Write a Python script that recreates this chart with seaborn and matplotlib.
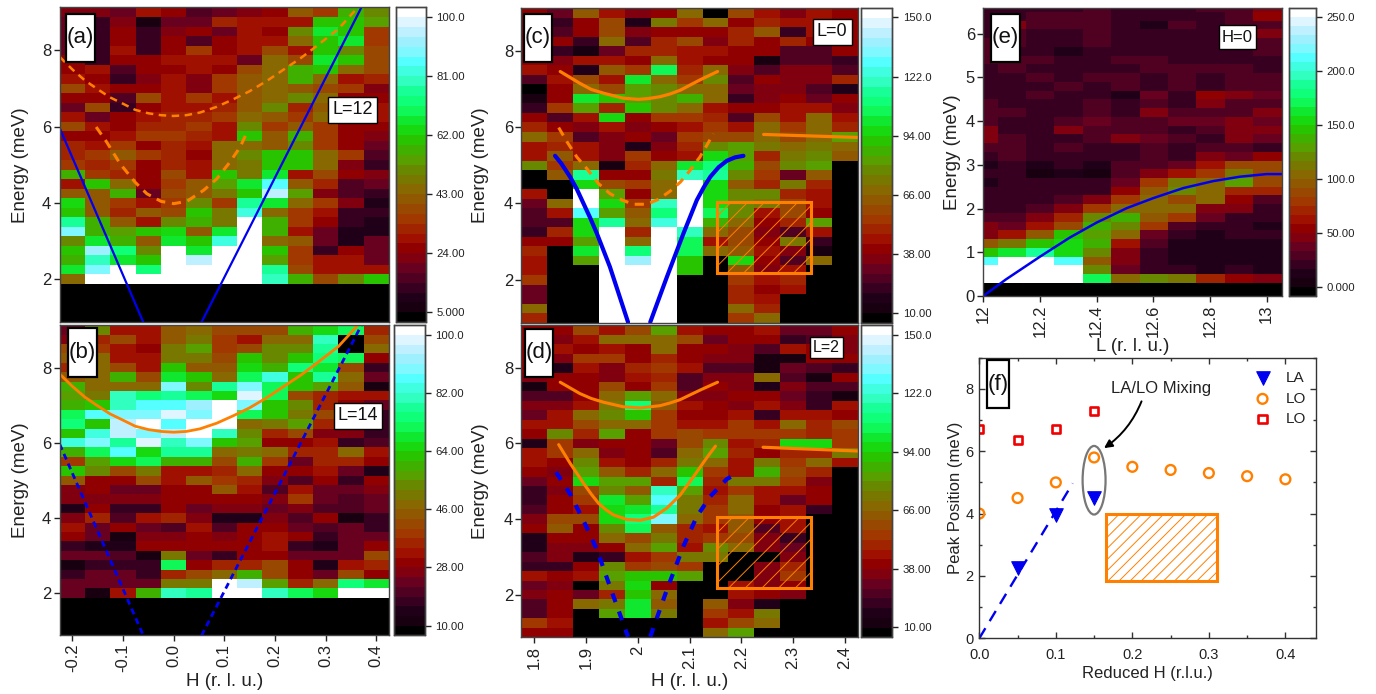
import numpy as np
import pandas as pd
import seaborn as sns
from matplotlib import pyplot as plt
from matplotlib.colors import ListedColormap
from matplotlib.patches import Rectangle, Ellipse
from matplotlib.ticker import MultipleLocator, FixedLocator

FIG_W, FIG_H = 1376, 694

band_colors = ["#000000", "#180010", "#200018", "#380020", "#500020", "#680020", "#800010", "#900000",
               "#A01000", "#A02400", "#A03800", "#984800", "#905800", "#886800", "#787800", "#688800",
               "#58A000", "#40B000", "#28C400", "#18D810", "#10E830", "#10F858", "#10FF78", "#18FF98",
               "#30FFC0", "#40FFE0", "#55FFFF", "#7FF8FF", "#9FF0FF", "#BFF0FF", "#DFF5FF", "#FFFFFF"]

orange = "#FF8000"
blue = "#0000F0"

# energy rows, top to bottom
energy_rows = [9.0, 8.75, 8.5, 8.25, 8.0, 7.75, 7.5, 7.25, 7.0, 6.75, 6.5, 6.25, 6.0, 5.75, 5.5, 5.25, 5.0,
               4.75, 4.5, 4.25, 4.0, 3.75, 3.5, 3.25, 3.0, 2.75, 2.5, 2.25, 2.0, 1.75, 1.5, 1.25, 1.0]
h_reduced = [-0.2, -0.15, -0.1, -0.05, 0.0, 0.05, 0.1, 0.15, 0.2, 0.25, 0.3, 0.35, 0.4]
h_zone = [1.8, 1.85, 1.9, 1.95, 2.0, 2.05, 2.1, 2.15, 2.2, 2.25, 2.3, 2.35, 2.4]

panel_a = [
    [22, 22, 20, 28, 24, 15, 20, 22, 26, 42, 34, 58, 52],
    [20, 12, 22, 8, 18, 20, 32, 28, 28, 30, 60, 60, 55],
    [20, 14, 24, 13, 22, 24, 18, 28, 26, 50, 66, 60, 34],
    [20, 14, 24, 14, 24, 16, 24, 28, 30, 44, 60, 68, 34],
    [20, 14, 28, 14, 24, 36, 26, 28, 38, 30, 60, 50, 38],
    [24, 14, 24, 24, 28, 28, 28, 20, 44, 38, 66, 62, 38],
    [24, 30, 16, 24, 24, 30, 26, 38, 44, 58, 62, 44, 38],
    [28, 24, 14, 22, 28, 22, 36, 42, 44, 58, 44, 28, 32],
    [38, 28, 26, 26, 28, 22, 36, 42, 44, 40, 38, 34, 22],
    [24, 26, 16, 38, 28, 36, 30, 42, 44, 52, 44, 24, 24],
    [20, 38, 14, 26, 28, 28, 32, 42, 52, 32, 42, 28, 30],
    [30, 18, 26, 28, 32, 32, 34, 44, 40, 34, 44, 30, 28],
    [38, 28, 26, 32, 32, 36, 28, 50, 36, 42, 36, 24, 24],
    [26, 24, 28, 36, 34, 32, 28, 60, 42, 56, 34, 26, 22],
    [32, 28, 36, 26, 32, 30, 44, 44, 40, 50, 36, 26, 20],
    [32, 36, 42, 34, 32, 26, 46, 52, 62, 62, 44, 36, 16],
    [36, 32, 36, 26, 32, 30, 44, 48, 62, 62, 44, 22, 12],
    [56, 36, 32, 26, 38, 28, 62, 48, 68, 28, 38, 24, 22],
    [30, 62, 44, 24, 34, 40, 54, 66, 85, 42, 32, 16, 18],
    [40, 42, 58, 20, 38, 42, 48, 60, 94, 54, 22, 16, 12],
    [64, 42, 36, 30, 36, 52, 36, 76, 66, 44, 34, 22, 10],
    [60, 42, 32, 40, 38, 60, 48, 84, 46, 34, 28, 14, 12],
    [76, 58, 42, 28, 50, 58, 48, 103, 58, 36, 26, 14, 10],
    [88, 58, 54, 60, 64, 42, 68, 103, 56, 30, 18, 10, 11],
    [50, 66, 58, 42, 68, 62, 84, 103, 44, 42, 18, 10, 20],
    [62, 92, 74, 50, 103, 66, 103, 103, 60, 34, 13, 26, 20],
    [56, 80, 66, 60, 103, 96, 103, 103, 54, 36, 28, 28, 18],
    [66, 90, 103, 74, 103, 103, 103, 103, 76, 38, 30, 30, 30],
    [46, 103, 103, 103, 103, 103, 103, 103, 78, 58, 38, 52, 62],
    [0] * 13, [0] * 13, [0] * 13, [0] * 13,
]

panel_b = [
    [24, 52, 32, 33, 44, 48, 42, 42, 42, 58, 66, 72, 34],
    [26, 36, 40, 33, 44, 50, 38, 32, 46, 46, 80, 5, 40],
    [40, 38, 31, 28, 50, 56, 38, 40, 54, 54, 76, 5, 46],
    [44, 46, 33, 33, 50, 50, 42, 62, 54, 62, 74, 70, 28],
    [35, 46, 40, 32, 62, 44, 44, 64, 60, 74, 68, 40, 16],
    [44, 46, 60, 40, 68, 62, 46, 70, 82, 62, 78, 46, 22],
    [58, 46, 46, 46, 90, 54, 76, 90, 72, 62, 56, 44, 10],
    [56, 50, 80, 74, 78, 70, 66, 97, 72, 42, 36, 31, 31],
    [60, 62, 80, 86, 86, 91, 103, 88, 62, 54, 34, 28, 24],
    [71, 85, 88, 90, 97, 90, 103, 72, 62, 50, 40, 26, 18],
    [75, 62, 96, 103, 85, 103, 103, 48, 50, 56, 36, 24, 18],
    [62, 82, 96, 90, 96, 103, 80, 54, 35, 40, 26, 26, 16],
    [82, 90, 78, 98, 80, 88, 62, 56, 28, 28, 31, 16, 20],
    [58, 70, 85, 66, 78, 78, 47, 50, 47, 34, 34, 46, 33],
    [38, 56, 66, 70, 60, 58, 40, 60, 38, 24, 34, 34, 30],
    [62, 54, 42, 50, 32, 32, 34, 46, 30, 28, 33, 24, 14],
    [44, 28, 28, 40, 33, 44, 38, 34, 26, 20, 30, 16, 28],
    [26, 30, 24, 22, 30, 30, 44, 32, 20, 32, 24, 24, 26],
    [26, 26, 26, 26, 28, 28, 30, 30, 26, 38, 24, 20, 24],
    [14, 30, 16, 16, 28, 24, 26, 26, 22, 26, 20, 20, 22],
    [27, 34, 20, 31, 34, 26, 14, 14, 26, 20, 30, 12, 16],
    [33, 24, 30, 24, 20, 33, 20, 30, 28, 22, 20, 24, 18],
    [30, 24, 12, 26, 26, 30, 26, 30, 32, 30, 18, 24, 24],
    [16, 14, 15, 28, 28, 28, 28, 28, 32, 18, 14, 24, 30],
    [24, 24, 20, 10, 50, 24, 16, 30, 30, 24, 24, 24, 40],
    [11, 18, 18, 18, 70, 30, 36, 34, 40, 28, 15, 32, 36],
    [16, 24, 22, 16, 36, 40, 48, 58, 40, 30, 24, 40, 30],
    [24, 24, 24, 24, 50, 50, 103, 96, 56, 34, 46, 74, 68],
    [24, 10, 31, 60, 80, 78, 103, 103, 80, 72, 66, 103, 103],
    [0] * 13, [0] * 13, [0] * 13, [0] * 13,
]

panel_c = [
    [38, 32, 62, 44, 34, 38, 68, 5, 58, 46, 36, 44, 38],
    [38, 20, 40, 60, 18, 72, 54, 68, 42, 50, 46, 44, 40],
    [40, 26, 40, 60, 36, 42, 40, 40, 48, 62, 22, 44, 40],
    [42, 40, 20, 68, 28, 50, 58, 36, 48, 38, 50, 42, 40],
    [42, 22, 14, 30, 48, 48, 44, 46, 38, 38, 26, 26, 40],
    [40, 36, 44, 44, 40, 66, 44, 42, 42, 14, 24, 28, 22],
    [44, 38, 18, 62, 54, 104, 50, 68, 34, 28, 34, 34, 26],
    [24, 46, 58, 44, 100, 70, 56, 76, 28, 38, 34, 34, 48],
    [5, 42, 66, 60, 82, 76, 70, 66, 32, 36, 36, 24, 18],
    [12, 38, 102, 92, 84, 78, 88, 66, 20, 36, 40, 30, 40],
    [20, 54, 84, 50, 92, 76, 68, 44, 40, 40, 46, 44, 36],
    [42, 24, 44, 98, 38, 52, 56, 48, 24, 60, 46, 68, 44],
    [50, 38, 36, 44, 34, 38, 44, 54, 44, 66, 56, 68, 50],
    [68, 54, 28, 36, 40, 32, 56, 60, 58, 68, 60, 68, 82],
    [46, 50, 46, 36, 16, 36, 48, 76, 84, 72, 66, 72, 70],
    [44, 64, 46, 36, 54, 40, 44, 96, 84, 50, 72, 78, 64],
    [76, 56, 68, 14, 50, 68, 102, 112, 88, 60, 78, 80, 5],
    [5, 62, 116, 38, 38, 72, 118, 116, 76, 54, 32, 64, 5],
    [5, 5, 96, 60, 54, 70, 155, 98, 64, 50, 72, 48, 5],
    [44, 5, 155, 84, 38, 66, 155, 98, 78, 78, 50, 44, 5],
    [32, 68, 155, 96, 56, 118, 155, 96, 78, 72, 60, 44, 5],
    [24, 44, 127, 80, 62, 112, 155, 104, 76, 46, 60, 38, 5],
    [26, 24, 98, 115, 66, 122, 155, 86, 68, 40, 50, 84, 5],
    [20, 48, 98, 155, 50, 155, 118, 68, 58, 36, 26, 44, 5],
    [40, 40, 84, 155, 70, 155, 104, 46, 58, 40, 72, 22, 5],
    [50, 5, 100, 155, 108, 155, 105, 68, 64, 44, 36, 14, 5],
    [46, 5, 80, 155, 140, 155, 92, 5, 98, 42, 28, 66, 5],
    [44, 5, 5, 155, 155, 155, 92, 5, 62, 36, 46, 5, 5],
    [56, 5, 5, 155, 155, 155, 5, 5, 54, 46, 48, 5, 5],
    [30, 5, 5, 155, 155, 155, 5, 5, 50, 42, 46, 5, 5],
    [32, 5, 5, 155, 155, 155, 5, 5, 50, 44, 5, 5, 5],
    [66, 5, 5, 155, 155, 155, 5, 5, 66, 50, 5, 5, 5],
    [48, 5, 5, 155, 155, 155, 5, 5, 56, 68, 5, 5, 5],
]

panel_d = [
    [40, 38, 60, 46, 58, 80, 44, 42, 42, 44, 30, 32, 40],
    [40, 36, 46, 70, 66, 68, 58, 30, 38, 42, 22, 28, 36],
    [40, 46, 40, 44, 40, 66, 42, 40, 36, 24, 44, 38, 36],
    [40, 36, 56, 56, 42, 50, 40, 36, 36, 12, 12, 42, 38],
    [40, 18, 46, 36, 50, 56, 44, 28, 28, 14, 30, 26, 20],
    [36, 40, 42, 36, 46, 48, 28, 36, 34, 68, 28, 12, 38],
    [12, 38, 40, 58, 40, 56, 26, 40, 36, 18, 34, 26, 28],
    [24, 24, 42, 68, 84, 68, 34, 36, 38, 38, 30, 20, 14],
    [34, 34, 46, 72, 108, 62, 44, 38, 34, 46, 36, 20, 44],
    [30, 44, 70, 76, 90, 52, 40, 40, 44, 22, 44, 44, 42],
    [46, 46, 58, 68, 66, 52, 44, 44, 54, 46, 68, 50, 60],
    [42, 76, 48, 80, 42, 52, 60, 56, 54, 52, 52, 50, 54],
    [18, 52, 36, 40, 40, 30, 60, 76, 44, 48, 96, 98, 54],
    [44, 54, 68, 36, 38, 28, 68, 84, 50, 42, 48, 48, 74],
    [46, 40, 76, 44, 40, 48, 74, 70, 46, 72, 54, 68, 44],
    [40, 36, 84, 62, 48, 66, 92, 56, 46, 86, 60, 48, 5],
    [30, 38, 96, 82, 82, 50, 104, 50, 72, 72, 56, 36, 5],
    [20, 34, 60, 76, 62, 118, 82, 44, 54, 44, 44, 38, 5],
    [20, 38, 54, 100, 80, 130, 72, 50, 66, 44, 32, 40, 5],
    [26, 38, 46, 94, 100, 115, 72, 52, 66, 40, 46, 20, 5],
    [36, 58, 60, 94, 108, 132, 68, 54, 62, 38, 46, 5, 5],
    [42, 64, 42, 76, 104, 62, 48, 46, 64, 28, 46, 5, 5],
    [18, 38, 40, 66, 60, 74, 50, 52, 58, 36, 20, 5, 5],
    [18, 36, 36, 38, 70, 82, 46, 78, 68, 34, 32, 5, 5],
    [28, 36, 18, 22, 44, 52, 74, 72, 5, 5, 36, 5, 5],
    [22, 22, 38, 78, 54, 60, 54, 5, 5, 34, 50, 5, 5],
    [46, 40, 44, 80, 92, 90, 80, 5, 5, 36, 52, 5, 5],
    [30, 34, 5, 74, 96, 40, 5, 5, 44, 34, 40, 5, 5],
    [34, 42, 30, 50, 92, 70, 5, 5, 44, 40, 36, 5, 5],
    [24, 42, 68, 74, 102, 64, 5, 62, 36, 18, 5, 5, 5],
    [24, 40, 5, 84, 100, 72, 5, 56, 46, 72, 5, 5, 5],
    [54, 44, 5, 5, 5, 5, 5, 46, 60, 68, 5, 5, 5],
    [42, 38, 5, 5, 5, 5, 5, 68, 84, 5, 5, 5, 5],
]

l_values = [12.0, 12.1, 12.2, 12.3, 12.4, 12.5, 12.6, 12.7, 12.8, 12.9, 13.0]
energy_rows_e = [6.6, 6.4, 6.2, 6.0, 5.8, 5.6, 5.4, 5.2, 5.0, 4.8, 4.6, 4.4, 4.2, 4.0, 3.8, 3.6, 3.4,
                 3.2, 3.0, 2.8, 2.6, 2.4, 2.2, 2.0, 1.8, 1.6, 1.4, 1.2, 1.0, 0.8, 0.6, 0.4, 0.2, 0.0]
panel_e = [
    [25, 25, 25, 25, 28, 18, 20, 18, 28, 32, 50],
    [25, 25, 28, 28, 28, 20, 22, 20, 25, 32, 52],
    [25, 42, 30, 30, 28, 20, 12, 28, 25, 30, 30],
    [25, 28, 20, 20, 30, 20, 20, 22, 22, 25, 46],
    [28, 28, 20, 20, 30, 20, 20, 22, 22, 25, 28],
    [30, 22, 24, 12, 20, 20, 20, 20, 22, 25, 28],
    [28, 28, 28, 20, 22, 30, 30, 20, 20, 25, 18],
    [25, 30, 22, 20, 22, 22, 30, 28, 28, 28, 18],
    [25, 25, 30, 22, 28, 28, 20, 28, 18, 28, 28],
    [25, 25, 25, 30, 22, 28, 20, 28, 25, 28, 28],
    [25, 25, 32, 22, 22, 10, 40, 25, 55, 42, 35],
    [28, 20, 20, 20, 28, 18, 28, 18, 42, 30, 28],
    [30, 30, 25, 18, 28, 18, 42, 28, 32, 28, 42],
    [30, 20, 20, 32, 38, 28, 28, 38, 38, 50, 38],
    [42, 20, 25, 45, 30, 28, 30, 25, 30, 42, 42],
    [42, 28, 20, 25, 28, 50, 38, 30, 22, 42, 38],
    [28, 28, 25, 30, 18, 25, 28, 25, 32, 32, 22],
    [18, 28, 20, 20, 18, 18, 28, 25, 50, 40, 55],
    [10, 18, 10, 18, 10, 30, 30, 38, 60, 85, 85],
    [18, 18, 8, 10, 8, 32, 45, 62, 80, 115, 90],
    [10, 18, 18, 18, 20, 38, 78, 110, 105, 126, 88],
    [18, 18, 18, 18, 20, 52, 95, 125, 105, 75, 70],
    [18, 18, 18, 30, 45, 80, 105, 90, 105, 52, 32],
    [18, 18, 32, 50, 78, 105, 105, 105, 48, 48, 25],
    [28, 28, 45, 70, 118, 134, 100, 80, 38, 25, 20],
    [50, 38, 65, 90, 140, 120, 82, 28, 18, 18, 10],
    [50, 65, 100, 150, 130, 105, 38, 25, 12, 18, 18],
    [95, 115, 145, 155, 135, 65, 30, 10, 10, 10, 15],
    [145, 165, 190, 155, 118, 50, 20, 10, 10, 10, 10],
    [210, 258, 258, 215, 100, 50, 20, 10, 10, 10, 10],
    [258, 258, 258, 258, 120, 40, 22, 18, 12, 20, 12],
    [258, 258, 258, 258, 175, 105, 125, 115, 70, 55, 50],
    [-8] * 11, [-8] * 11,
]

# dispersion guides
h_lo_up = [-0.225, -0.2, -0.175, -0.15, -0.126, -0.1, -0.076, -0.05, -0.025, 0.0, 0.025, 0.052, 0.085, 0.118,
           0.15, 0.184, 0.223, 0.25, 0.275, 0.3, 0.325, 0.361]
e_lo_up = [7.83, 7.5, 7.21, 6.98, 6.77, 6.6, 6.44, 6.35, 6.3, 6.28, 6.3, 6.37, 6.52, 6.72,
           6.93, 7.2, 7.55, 7.79, 8.04, 8.3, 8.56, 9.09]
h_lo_low = [-0.153, -0.132, -0.106, -0.076, -0.053, -0.025, 0.0, 0.026, 0.059, 0.085, 0.111, 0.131, 0.145]
e_lo_low = [5.99, 5.59, 5.03, 4.54, 4.24, 4.04, 3.98, 4.04, 4.33, 4.63, 5.07, 5.46, 5.86]
h_la_left = [-0.225, -0.06]
e_la_left = [5.96, 0.87]
h_la_right = [0.055, 0.371]
e_la_right = [0.87, 9.14]

h_c_up = [1.85, 1.888, 1.91, 1.934, 1.972, 2.001, 2.02, 2.043, 2.062, 2.082, 2.12, 2.154]
e_c_up = [7.46, 7.15, 6.99, 6.89, 6.76, 6.73, 6.75, 6.80, 6.87, 6.97, 7.24, 7.46]
h_c_low = [1.847, 1.863, 1.882, 1.901, 1.924, 1.946, 1.969, 1.992, 2.017, 2.04, 2.062, 2.082, 2.101, 2.12, 2.133, 2.146]
e_c_low = [5.99, 5.62, 5.22, 4.92, 4.52, 4.26, 4.09, 3.98, 3.98, 4.11, 4.32, 4.56, 4.87, 5.22, 5.52, 5.83]
h_c_la1 = [1.84, 1.852, 1.869, 1.882, 1.895, 1.908, 1.921, 1.946, 1.981]
e_c_la1 = [5.25, 5.05, 4.70, 4.38, 4.0, 3.62, 3.21, 2.34, 0.89]
h_c_la2 = [2.024, 2.056, 2.088, 2.114, 2.128, 2.14, 2.156, 2.172, 2.188, 2.204]
e_c_la2 = [0.89, 2.07, 3.21, 4.09, 4.44, 4.70, 4.95, 5.12, 5.21, 5.25]
h_c_flat = [2.243, 2.429]
e_c_flat = [5.81, 5.73]

h_d_up = [1.85, 1.888, 1.91, 1.934, 1.972, 2.005, 2.043, 2.062, 2.082, 2.12, 2.154]
e_d_up = [7.62, 7.32, 7.19, 7.09, 6.97, 6.94, 7.0, 7.07, 7.16, 7.41, 7.62]
h_d_low = [1.847, 1.869, 1.895, 1.91, 1.924, 1.938, 1.953, 1.979, 2.005, 2.03, 2.056, 2.082, 2.108, 2.133, 2.15]
e_d_low = [5.97, 5.48, 4.95, 4.66, 4.42, 4.25, 4.11, 3.99, 3.97, 4.05, 4.29, 4.64, 5.13, 5.62, 5.93]
h_d_la1 = [1.842, 1.869, 1.895, 1.921, 1.946, 1.981]
e_d_la1 = [5.24, 4.67, 3.96, 3.19, 2.22, 0.89]
h_d_la2 = [2.024, 2.056, 2.088, 2.114, 2.14, 2.172, 2.191]
e_d_la2 = [0.89, 2.13, 3.28, 4.07, 4.6, 5.06, 5.2]
h_d_flat = [2.242, 2.427]
e_d_flat = [5.9, 5.8]

l_la = [12.0, 12.08, 12.2, 12.306, 12.4, 12.506, 12.6, 12.706, 12.812, 12.906, 13.0, 13.053]
e_la = [0.0, 0.38, 0.9, 1.34, 1.68, 2.01, 2.24, 2.47, 2.63, 2.73, 2.79, 2.79]

# panel f
h_f_la = [0.05, 0.1, 0.15]
e_f_la = [2.25, 3.95, 4.5]
h_f_lo = [0.0, 0.05, 0.1, 0.15, 0.2, 0.25, 0.3, 0.35, 0.4]
e_f_lo = [4.0, 4.5, 5.0, 5.8, 5.5, 5.4, 5.3, 5.2, 5.1]
h_f_lo2 = [0.0, 0.05, 0.1, 0.15]
e_f_lo2 = [6.7, 6.35, 6.7, 7.3]
h_f_guide = [0.0, 0.122]
e_f_guide = [0.0, 4.97]

sns.set_theme(style="white")
plt.rcParams["font.family"] = ["Liberation Sans", "DejaVu Sans"]
plt.rcParams["hatch.linewidth"] = 0.7
plt.rcParams["axes.linewidth"] = 1.0
plt.rcParams["axes.edgecolor"] = "#333333"

cmap = ListedColormap(band_colors)
fig = plt.figure(figsize=(FIG_W / 100, FIG_H / 100), dpi=100)


def px_rect(x0, y0, x1, y1):
    return [x0 / FIG_W, 1 - y1 / FIG_H, (x1 - x0) / FIG_W, (y1 - y0) / FIG_H]


def hmap(box, cbox, rows, yvals, xvals, vmin, vmax, cticks, clabels, xlim, ylim):
    ax0 = fig.add_axes(px_rect(*box))
    cax = fig.add_axes(px_rect(*cbox))
    df = pd.DataFrame(rows, index=yvals, columns=xvals)
    sns.heatmap(df, ax=ax0, cbar_ax=cax, cmap=cmap, vmin=vmin, vmax=vmax,
                xticklabels=False, yticklabels=False, linewidths=0)
    ax0.set_xlabel("")
    ax0.set_ylabel("")
    cax.yaxis.set_major_locator(FixedLocator(cticks))
    cax.set_yticklabels(clabels, fontsize=8.2, color="#222222")
    cax.tick_params(axis="y", which="both", right=True, length=4.5, width=1, pad=3, color="#222222")
    for sp in cax.spines.values():
        sp.set_visible(True)
        sp.set_edgecolor("#444444")
        sp.set_linewidth(1)
    ax = fig.add_axes(px_rect(*box), facecolor="none")
    ax.set_xlim(*xlim)
    ax.set_ylim(*ylim)
    ax.tick_params(axis="both", which="major", bottom=True, left=True, length=4, width=1,
                   labelsize=12, color="#222222", labelcolor="#222222", pad=2)
    for sp in ax.spines.values():
        sp.set_edgecolor("#444444")
    return ax0, ax


def curve(ax, x, y, color, lw, ls="-"):
    sns.lineplot(x=x, y=y, ax=ax, color=color, linewidth=lw, linestyle=ls, sort=False,
                 estimator=None, legend=False)
    ax.set_xlabel("")
    ax.set_ylabel("")


def tag(x0, y0, x1, y1, text, size=16, fill="white", lw=1.6):
    fig.add_artist(Rectangle((x0 / FIG_W, 1 - y1 / FIG_H), (x1 - x0) / FIG_W, (y1 - y0) / FIG_H,
                             transform=fig.transFigure, facecolor=fill, edgecolor="black", linewidth=lw))
    fig.text((x0 + x1) / 2 / FIG_W, 1 - (y0 + y1) / 2 / FIG_H, text, ha="center", va="center",
             fontsize=size, color="#111111")


def axis_text(ax, box, xlabel=None, ylabel=None, ylab_x=None, xlab_y=None):
    x0, y0, x1, y1 = box
    if ylabel:
        ax.set_ylabel(ylabel, fontsize=13.5, color="#222222")
        ax.yaxis.set_label_coords((ylab_x - x0) / (x1 - x0), 0.5)
    if xlabel:
        ax.set_xlabel(xlabel, fontsize=13.5, color="#222222")
        ax.xaxis.set_label_coords(0.5, (y1 - xlab_y) / (y1 - y0))


e_lim = (0.875, 9.125)

# (a)
box_a = (59.7, 7.5, 389, 322)
_, ax_a = hmap(box_a, (395.7, 7.5, 425.7, 322), panel_a, energy_rows, h_reduced, 1.8, 103.2,
               [5, 24, 43, 62, 81, 100], ["5.000", "24.00", "43.00", "62.00", "81.00", "100.0"],
               (-0.225, 0.425), e_lim)
ax_a.set_xticks([])
ax_a.set_yticks([2, 4, 6, 8])
curve(ax_a, h_lo_up, e_lo_up, orange, 1.8, (0, (3, 2.2)))
curve(ax_a, h_lo_low, e_lo_low, orange, 2.2, (0, (3, 2.2)))
curve(ax_a, h_la_left, e_la_left, blue, 1.6)
curve(ax_a, h_la_right, e_la_right, blue, 1.6)
axis_text(ax_a, box_a, ylabel="Energy (meV)", ylab_x=29)

# (b)
box_b = (59.7, 325.3, 389, 635.3)
_, ax_b = hmap(box_b, (394.3, 325.3, 425, 635.3), panel_b, energy_rows, h_reduced, 7.0, 103.0,
               [10, 28, 46, 64, 82, 100], ["10.00", "28.00", "46.00", "64.00", "82.00", "100.0"],
               (-0.225, 0.425), e_lim)
ax_b.set_xticks([-0.2, -0.1, 0.0, 0.1, 0.2, 0.3, 0.4])
ax_b.set_xticklabels(["-0.2", "-0.1", "0.0", "0.1", "0.2", "0.3", "0.4"], rotation=90)
ax_b.set_yticks([2, 4, 6, 8])
curve(ax_b, h_lo_up, e_lo_up, orange, 2.0)
curve(ax_b, h_la_left, e_la_left, blue, 2.0, (0, (2.2, 1.6)))
curve(ax_b, h_la_right, e_la_right, blue, 2.0, (0, (2.2, 1.6)))
axis_text(ax_b, box_b, xlabel="H (r. l. u.)", ylabel="Energy (meV)", ylab_x=29, xlab_y=673)

# (c)
box_c = (521.4, 8, 857.8, 322.7)
_, ax_c = hmap(box_c, (861, 8, 892.3, 322.7), panel_c, energy_rows, h_zone, 5.2, 154.5,
               [10, 38, 66, 94, 122, 150], ["10.00", "38.00", "66.00", "94.00", "122.0", "150.0"],
               (1.775, 2.425), e_lim)
ax_c.set_xticks([])
ax_c.set_yticks([2, 4, 6, 8])
curve(ax_c, h_c_up, e_c_up, orange, 2.3)
curve(ax_c, h_c_low, e_c_low, orange, 2.2, (0, (3, 2.2)))
curve(ax_c, h_c_la1, e_c_la1, blue, 3.0)
curve(ax_c, h_c_la2, e_c_la2, blue, 3.0)
curve(ax_c, h_c_flat, e_c_flat, orange, 2.3)
ax_c.add_patch(Rectangle((2.153, 2.19), 0.182, 1.85, facecolor="none", edgecolor=orange, linewidth=2.2, hatch="//"))
axis_text(ax_c, box_c, ylabel="Energy (meV)", ylab_x=489)

# (d)
box_d = (521.4, 325.3, 857.8, 637.3)
_, ax_d = hmap(box_d, (861, 325.3, 892.3, 637.3), panel_d, energy_rows, h_zone, 5.2, 154.6,
               [10, 38, 66, 94, 122, 150], ["10.00", "38.00", "66.00", "94.00", "122.0", "150.0"],
               (1.775, 2.425), e_lim)
ax_d.set_xticks([1.8, 1.9, 2.0, 2.1, 2.2, 2.3, 2.4])
ax_d.set_xticklabels(["1.8", "1.9", "2", "2.1", "2.2", "2.3", "2.4"], rotation=90)
ax_d.set_yticks([2, 4, 6, 8])
curve(ax_d, h_d_up, e_d_up, orange, 2.2)
curve(ax_d, h_d_low, e_d_low, orange, 2.2)
curve(ax_d, h_d_la1, e_d_la1, blue, 3.0, (0, (2.2, 2.4)))
curve(ax_d, h_d_la2, e_d_la2, blue, 3.0, (0, (2.2, 2.4)))
curve(ax_d, h_d_flat, e_d_flat, orange, 2.3)
ax_d.add_patch(Rectangle((2.153, 2.19), 0.182, 1.86, facecolor="none", edgecolor=orange, linewidth=2.2, hatch="//"))
axis_text(ax_d, box_d, xlabel="H (r. l. u.)", ylabel="Energy (meV)", ylab_x=489, xlab_y=673)

# (e)
box_e = (983.3, 8, 1281.7, 296)
ax0_e, ax_e = hmap(box_e, (1288.7, 8, 1315.7, 296), panel_e, energy_rows_e, l_values, -8, 258.6,
                   [0, 50, 100, 150, 200, 250], ["0.000", "50.00", "100.0", "150.0", "200.0", "250.0"],
                   (12.0, 13.053), (0.0, 6.59))
# rows and columns are centred on the values, first and last get cut
ax0_e.set_xlim(0.5, 11.0)
ax0_e.set_ylim(33.5, 0.55)
ax_e.set_xticks([12, 12.2, 12.4, 12.6, 12.8, 13])
ax_e.set_xticklabels(["12", "12.2", "12.4", "12.6", "12.8", "13"], rotation=90)
ax_e.set_yticks([0, 1, 2, 3, 4, 5, 6])
curve(ax_e, l_la, e_la, blue, 1.8)
axis_text(ax_e, box_e, xlabel="L (r. l. u.)", ylabel="Energy (meV)", ylab_x=961, xlab_y=338)

# (f)
box_f = (979.3, 357.7, 1316, 638.3)
ax_f = fig.add_axes(px_rect(*box_f))
sns.scatterplot(x=h_f_la, y=e_f_la, ax=ax_f, marker="v", s=95, color=blue, edgecolor=blue, label="LA")
sns.scatterplot(x=h_f_lo, y=e_f_lo, ax=ax_f, marker="o", s=50, color="none", edgecolor=orange, linewidth=1.7, label="LO")
sns.scatterplot(x=h_f_lo2, y=e_f_lo2, ax=ax_f, marker="s", s=34, color="none", edgecolor="#F00000", linewidth=1.9, label="LO")
curve(ax_f, h_f_guide, e_f_guide, blue, 1.7, (0, (5, 3.5)))
ax_f.set_xlim(0, 0.44)
ax_f.set_ylim(0, 9)
ax_f.xaxis.set_major_locator(MultipleLocator(0.1))
ax_f.xaxis.set_minor_locator(MultipleLocator(0.05))
ax_f.yaxis.set_major_locator(MultipleLocator(2))
ax_f.yaxis.set_minor_locator(MultipleLocator(1))
ax_f.tick_params(axis="both", which="major", direction="in", length=4.5, width=1, top=True, right=True,
                 bottom=True, left=True, labelsize=10.5, labelcolor="#222222", color="#333333", pad=4)
ax_f.tick_params(axis="x", which="major", pad=7)
ax_f.tick_params(axis="both", which="minor", direction="in", length=2.5, width=1, top=True, right=True,
                 bottom=True, left=True, color="#333333")
ax_f.set_xticks([0, 0.1, 0.2, 0.3, 0.4])
ax_f.set_xticklabels(["0.0", "0.1", "0.2", "0.3", "0.4"])
ax_f.add_patch(Ellipse((0.15, 5.07), 0.03, 2.2, facecolor="none", edgecolor="#777777", linewidth=1.6))
ax_f.add_patch(Rectangle((0.165, 1.85), 0.145, 2.13, facecolor="none", edgecolor=orange, linewidth=2.2, hatch="///"))
ax_f.text(0.237, 8.0, "LA/LO Mixing", fontsize=12, color="#222222", ha="center", va="center")
ax_f.annotate("", xy=(0.163, 6.1), xytext=(0.212, 7.6),
              arrowprops=dict(arrowstyle="-|>", color="black", lw=1.4, shrinkA=0, shrinkB=0,
                              connectionstyle="arc3,rad=-0.15"))
ax_f.legend(loc="upper left", bbox_to_anchor=(0.755, 1.0), frameon=False, fontsize=11, labelspacing=0.42,
            handletextpad=0.5, labelcolor="#222222")
ax_f.set_xlabel("Reduced H (r.l.u.)", fontsize=12, color="#222222")
ax_f.xaxis.set_label_coords(0.5, (638.3 - 666) / 280.6)
ax_f.set_ylabel("Peak Position (meV)", fontsize=12, color="#222222")
ax_f.yaxis.set_label_coords((963 - 979.3) / 336.7, 0.5)

# panel tags and slice labels
tag(66, 14, 94.7, 62, "(a)")
tag(68, 328, 96.7, 377, "(b)")
tag(524, 14, 551.7, 62, "(c)")
tag(525, 329, 553.3, 376.7, "(d)")
tag(991, 14, 1020, 62, "(e)")
tag(987.3, 360, 1009, 408.3, "(f)", fill="none")
tag(328, 97, 377, 123, "L=12", 13, lw=1)
tag(334, 402.7, 382, 428.7, "L=14", 13, lw=1)
tag(812.7, 19, 851.7, 45, "L=0", 13, lw=1)
tag(810, 337, 842.7, 358, "L=2", 11.5, lw=1)
tag(1219, 25, 1256, 49, "H=0", 12, lw=1)

fig.savefig("out.png", dpi=100)
